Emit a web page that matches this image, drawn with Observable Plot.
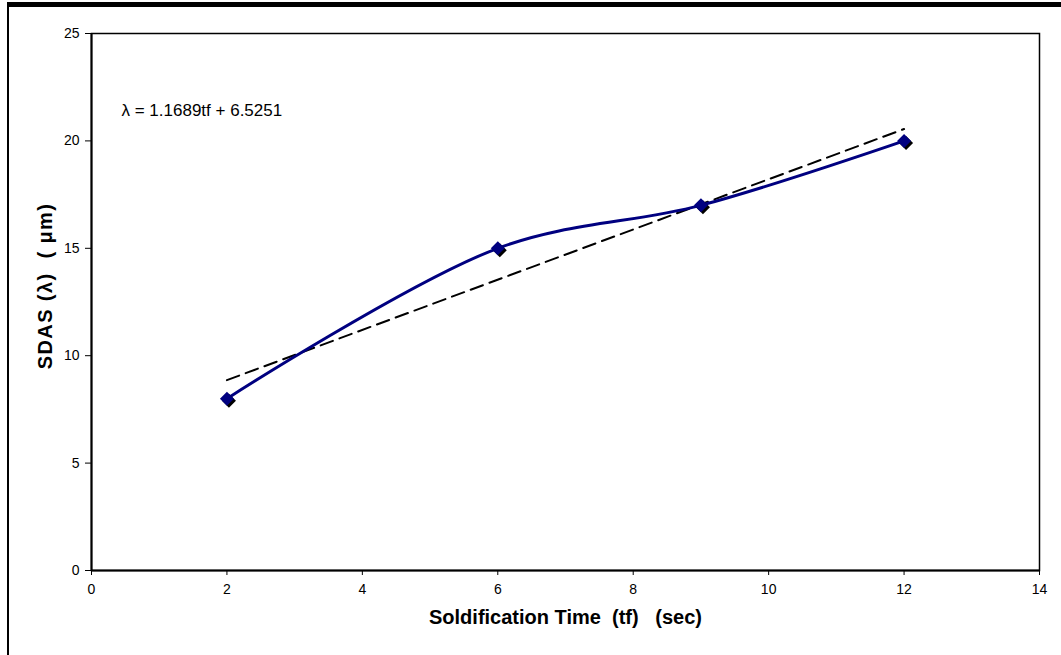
<!DOCTYPE html>
<html>
<head>
<meta charset="utf-8">
<script src="https://cdn.jsdelivr.net/npm/d3@7"></script>
<script src="https://cdn.jsdelivr.net/npm/@observablehq/plot@0.6"></script>
<style>
  html, body { margin: 0; padding: 0; background: #fff; }
  #wrap { position: relative; width: 1061px; height: 655px; overflow: hidden; }
  #topbar { position: absolute; left: 7px; top: 2px; width: 1054px; height: 5px; background: #000; }
  #leftbar { position: absolute; left: 7px; top: 2px; width: 2px; height: 653px; background: #000; }
  #chart { position: absolute; left: 0; top: 0; }
</style>
</head>
<body>
<div id="wrap">
  <div id="chart"></div>
  <div id="topbar"></div>
  <div id="leftbar"></div>
</div>
<script>
const solidTime = [2, 6, 9, 12];          // tf (sec)
const sdas = [8, 15, 17, 20];             // λ (µm)
const xTicks = [0, 2, 4, 6, 8, 10, 12, 14];
const yTicks = [0, 5, 10, 15, 20, 25];
const equation = "λ = 1.1689tf + 6.5251";
const xLabel = "Soldification Time\u00a0\u00a0(tf)\u00a0\u00a0\u00a0(sec)";
const yLabel = "SDAS (λ)\u00a0\u00a0(\u00a0μm)";

const data = solidTime.map((t, i) => ({t, v: sdas[i]}));
const font = "Arial, 'Liberation Sans', sans-serif";

const chart = Plot.plot({
  width: 1061,
  height: 655,
  marginLeft: 91,
  marginRight: 22,
  marginTop: 33,
  marginBottom: 85,
  style: {fontFamily: font, fontSize: "14px", color: "#000", background: "transparent"},
  x: {domain: [0, 14]},
  y: {domain: [0, 25]},
  marks: [
    Plot.frame({stroke: "#000", strokeWidth: 1.5}),
    Plot.axisX({ticks: xTicks, tickSize: 5, tickPadding: 9, label: null, fontSize: 14}),
    Plot.axisY({ticks: yTicks, tickSize: 6, tickPadding: 6, label: null, fontSize: 14}),
    Plot.ruleX([0], {strokeWidth: 2}),
    Plot.ruleY([0], {strokeWidth: 2}),
    Plot.linearRegressionY(data, {x: "t", y: "v", ci: 0, stroke: "#000", strokeWidth: 2, strokeDasharray: "13,7"}),
    Plot.line(data, {x: "t", y: "v", curve: "catmull-rom", stroke: "#000080", strokeWidth: 3}),
    Plot.dot(data, {x: "t", y: "v", symbol: "diamond2", r: 6.3, fill: "#000", stroke: "none", dx: 2, dy: 2}),
    Plot.dot(data, {x: "t", y: "v", symbol: "diamond2", r: 6.3, fill: "#000080", stroke: "none"}),
    Plot.text([equation], {frameAnchor: "top-left", dx: 30, dy: 70, textAnchor: "start", fontSize: 17, fill: "#000"}),
    Plot.text([xLabel], {frameAnchor: "bottom", dy: 53, textAnchor: "middle", fontSize: 20, fontWeight: "bold", fill: "#000"}),
    Plot.text([yLabel], {frameAnchor: "left", dx: -46, dy: -16, rotate: -90, textAnchor: "middle", fontSize: 20, fontWeight: "bold", fill: "#000"})
  ]
});
d3.select(chart).selectAll("text").filter(function() { return this.textContent === yLabel; })
  .style("letter-spacing", "1.4px");
document.getElementById("chart").appendChild(chart);
</script>
</body>
</html>
